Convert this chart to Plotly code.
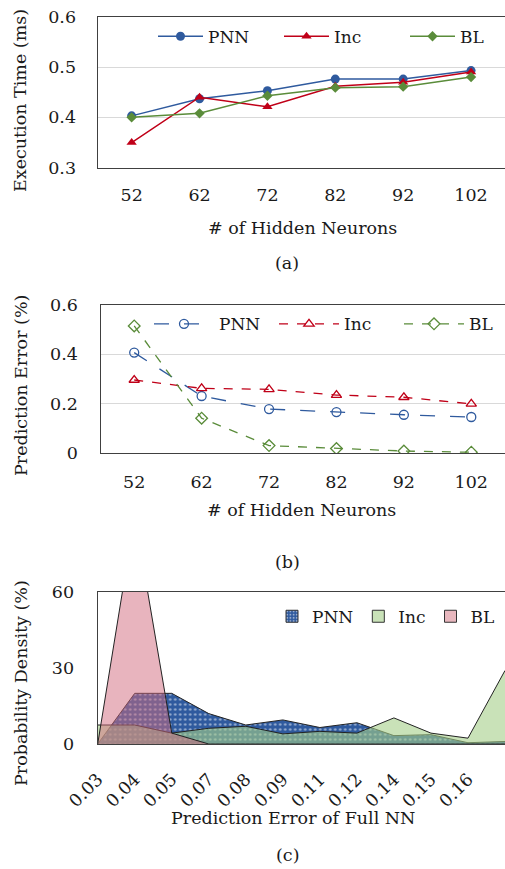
import plotly.graph_objects as go

W, H = 505, 869
FONT = "DejaVu Serif"
TXT = "#1a1a1a"

# ---------- data ----------
neurons = ["52", "62", "72", "82", "92", "102"]

exec_pnn = [0.403, 0.437, 0.453, 0.476, 0.476, 0.493]
exec_inc = [0.350, 0.440, 0.421, 0.462, 0.470, 0.490]
exec_bl = [0.400, 0.408, 0.443, 0.459, 0.461, 0.480]

err_pnn = [0.407, 0.231, 0.178, 0.166, 0.155, 0.146]
err_inc = [0.296, 0.262, 0.258, 0.235, 0.226, 0.199]
err_bl = [0.515, 0.141, 0.030, 0.018, 0.008, 0.003]

full_nn_err_labels = ["0.03", "0.04", "0.05", "0.07", "0.08", "0.09",
                      "0.11", "0.12", "0.14", "0.15", "0.16"]
dens_pnn = [0, 20, 20, 12, 7.5, 9.5, 6.5, 8.4, 3.3, 3.7, 0.5, 1]
dens_inc = [7.5, 7.5, 4.3, 6.2, 7.0, 4.0, 5.0, 4.3, 10.3, 4.3, 2.3, 29]
dens_bl = [0, 90, 4.3, 0, 0, 0, 0, 0, 0, 0, 0, 0]
dens_x = list(range(len(dens_pnn)))

BLUE = "#2F5A9E"
RED = "#C00018"
GREEN = "#5A8C3A"


def px(x):
    return x / W


def py(y):
    return 1 - y / H


fig = go.Figure()

# ---------- (a) execution time ----------
for name, vals, col, sym, size in [
    ("PNN", exec_pnn, BLUE, "circle", 9),
    ("Inc", exec_inc, RED, "triangle-up", 9),
    ("BL", exec_bl, GREEN, "diamond", 8),
]:
    fig.add_trace(go.Scatter(
        x=neurons, y=vals, name=name, mode="lines+markers",
        line=dict(color=col, width=1.5),
        marker=dict(symbol=sym, size=size, color=col),
        xaxis="x", yaxis="y", legend="legend",
    ))

# ---------- (b) prediction error ----------
for name, vals, col, sym, dash in [
    ("PNN", err_pnn, BLUE, "circle-open", "longdash"),
    ("Inc", err_inc, RED, "triangle-up-open", "dash"),
    ("BL", err_bl, GREEN, "diamond-open", "dash"),
]:
    fig.add_trace(go.Scatter(
        x=neurons, y=vals, name=name, mode="lines+markers",
        line=dict(color=col, width=1.3, dash=dash),
        marker=dict(symbol=sym, size=9, color=col, line=dict(width=1.3, color=col)),
        xaxis="x2", yaxis="y2", legend="legend2",
    ))

# ---------- (c) probability density ----------
fig.add_trace(go.Scatter(
    x=dens_x, y=dens_pnn, name="PNN", mode="lines", fill="tozeroy",
    line=dict(color="#222222", width=1),
    fillcolor=BLUE,
    fillpattern=dict(shape=".", bgcolor=BLUE, fgcolor="white", size=5, solidity=0.2),
    xaxis="x3", yaxis="y3", showlegend=False, legendgroup="pnn", legend="legend3",
))
fig.add_trace(go.Scatter(
    x=dens_x, y=dens_inc, name="Inc", mode="lines", fill="tozeroy",
    line=dict(color="#222222", width=1),
    fillcolor="rgba(165,207,137,0.6)",
    xaxis="x3", yaxis="y3", showlegend=False, legendgroup="inc", legend="legend3",
))
fig.add_trace(go.Scatter(
    x=dens_x, y=dens_bl, name="BL", mode="lines", fill="tozeroy",
    line=dict(color="#222222", width=1),
    fillcolor="rgba(209,105,125,0.5)",
    xaxis="x3", yaxis="y3", showlegend=False, legendgroup="bl", legend="legend3",
))
# legend swatches for (c)
for name, col, pat, grp in [
    ("PNN", BLUE, dict(shape=".", bgcolor=BLUE, fgcolor="white", size=4, solidity=0.3), "pnn"),
    ("Inc", "#C9E2B8", None, "inc"),
    ("BL", "#E8B7BE", None, "bl"),
]:
    mk = dict(color=col, line=dict(color="#333333", width=1))
    if pat:
        mk["pattern"] = pat
    fig.add_trace(go.Bar(
        x=[None], y=[None], name=name, marker=mk,
        xaxis="x3", yaxis="y3", legend="legend3", legendgroup=grp,
    ))

axis_common = dict(
    showline=True, mirror=True, linecolor="#404040", linewidth=1.3,
    ticks="", zeroline=False,
    tickfont=dict(family=FONT, size=17.5, color=TXT),
)

legfont = dict(family=FONT, size=17, color=TXT)

fig.update_layout(
    width=W, height=H,
    margin=dict(l=0, r=0, t=0, b=0, autoexpand=False),
    paper_bgcolor="white", plot_bgcolor="white",
    showlegend=True,
    font=dict(family=FONT, color=TXT),
    xaxis=dict(domain=[px(97.7), 1.0], anchor="y", type="category",
               range=[-0.5, 5.5], showgrid=False, ticklabelstandoff=11, **axis_common),
    yaxis=dict(domain=[py(167.7), py(16.7)], anchor="x", range=[0.3, 0.6],
               tickvals=[0.3, 0.4, 0.5, 0.6], ticktext=["0.3", "0.4", "0.5", "0.6"],
               showgrid=True, gridcolor="#D9D9D9", gridwidth=1,
               ticklabelstandoff=17, **axis_common),
    xaxis2=dict(domain=[px(100.5), 1.0], anchor="y2", type="category",
                range=[-0.5, 5.5], showgrid=False, ticklabelstandoff=13, **axis_common),
    yaxis2=dict(domain=[py(453), py(305)], anchor="x2", range=[0, 0.6],
                tickvals=[0, 0.2, 0.4, 0.6], ticktext=["0", "0.2", "0.4", "0.6"],
                showgrid=True, gridcolor="#D9D9D9", gridwidth=1,
                ticklabelstandoff=18, **axis_common),
    xaxis3=dict(domain=[px(97.7), 1.0], anchor="y3", range=[0, 11],
                tickvals=list(range(len(full_nn_err_labels))), ticktext=full_nn_err_labels,
                tickangle=-45, showgrid=False, ticklabelstandoff=17, **axis_common),
    yaxis3=dict(domain=[py(744), py(592)], anchor="x3", range=[0, 60],
                tickvals=[0, 30, 60], showgrid=False, ticklabelstandoff=19, **axis_common),
    legend=dict(x=px(153), y=py(36.7), xanchor="left", yanchor="middle",
                orientation="h", bgcolor="rgba(0,0,0,0)", traceorder="normal",
                font=legfont, itemwidth=45, entrywidth=66),
    legend2=dict(x=px(149), y=py(324.3), xanchor="left", yanchor="middle",
                 orientation="h", bgcolor="rgba(0,0,0,0)", traceorder="normal",
                 font=legfont, itemwidth=60, entrywidth=50),
    legend3=dict(x=px(500), y=py(616.7), xanchor="right", yanchor="middle",
                 orientation="h", bgcolor="rgba(0,0,0,0)", traceorder="normal",
                 font=legfont, itemwidth=30),
)

annos = [
    dict(text="# of Hidden Neurons", x=px(302), y=py(228)),
    dict(text="Execution Time (ms)", x=px(20), y=py(101), textangle=-90),
    dict(text="(a)", x=px(287), y=py(263)),
    dict(text="# of Hidden Neurons", x=px(301), y=py(510)),
    dict(text="Prediction Error (%)", x=px(21), y=py(386), textangle=-90),
    dict(text="(b)", x=px(287), y=py(562)),
    dict(text="Prediction Error of Full NN", x=px(293), y=py(818)),
    dict(text="Probability Density (%)", x=px(21), y=py(683), textangle=-90),
    dict(text="(c)", x=px(287), y=py(855)),
]
for a in annos:
    fig.add_annotation(xref="paper", yref="paper", showarrow=False,
                       xanchor="center", yanchor="middle",
                       font=dict(family=FONT, size=17.5, color=TXT), **a)

fig.write_html("out.html", config={"displayModeBar": False},
               post_script="document.body.style.margin='0';")
